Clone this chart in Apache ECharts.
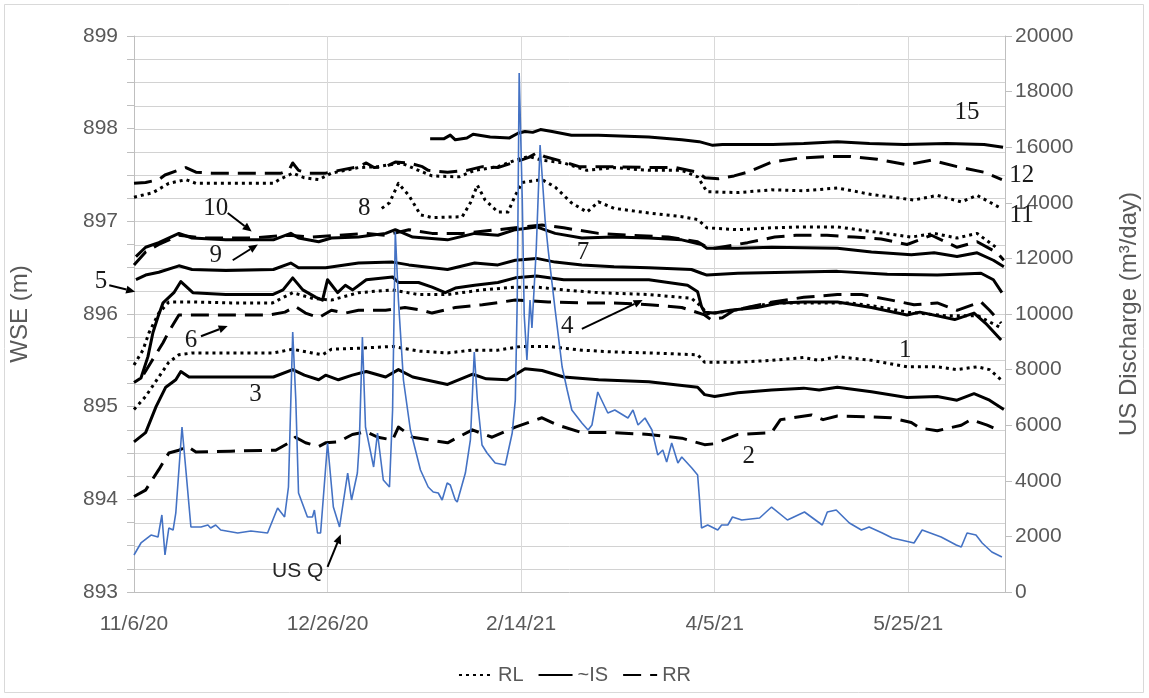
<!DOCTYPE html>
<html><head><meta charset="utf-8">
<script src="https://cdn.jsdelivr.net/npm/echarts@6/dist/echarts.min.js"></script>
<style>html,body{margin:0;padding:0;background:#fff}#c{width:1149px;height:698px}</style>
</head><body><div id="c"></div>
<script>
// x values are days since 11/6/20
const tickLabels = ['11/6/20','12/26/20','2/14/21','4/5/21','5/25/21'];
const tickDays = [0, 50, 100, 150, 200];

// ---- IS (solid) ----
const is15 = [[76.5,897.89],[80,897.89],[81.7,897.93],[83,897.88],[86,897.9],[87.6,897.94],[92,897.91],[97,897.9],[99.2,897.95],[101,897.97],[103,897.96],[105,897.99],[108,897.97],[113,897.93],[120,897.93],[133,897.91],[141.5,897.88],[146,897.86],[149.5,897.82],[152,897.83],[165,897.83],[173,897.84],[181.7,897.86],[190,897.84],[199,897.83],[210,897.84],[219.6,897.83],[224.5,897.8]];
const is9 = [[0.5,896.62],[3,896.72],[6.4,896.77],[11.6,896.87],[15,896.82],[23.7,896.8],[36,896.8],[40.5,896.87],[42.5,896.82],[47.7,896.78],[51,896.82],[58,896.83],[65,896.87],[67.5,896.91],[72,896.83],[81,896.8],[88,896.87],[94,896.85],[98.5,896.91],[104,896.94],[108.8,896.87],[115.7,896.82],[124,896.83],[133,896.82],[141.5,896.8],[146.6,896.75],[148,896.71],[156,896.71],[164.7,896.72],[181.7,896.71],[190.5,896.67],[200.8,896.64],[206.7,896.66],[212.6,896.62],[217.8,896.66],[222,896.58],[224.7,896.51]];
const is7 = [[0.5,896.37],[3,896.42],[6.4,896.45],[11.6,896.52],[15,896.48],[23.7,896.47],[36,896.48],[40.5,896.55],[42.5,896.5],[49.5,896.5],[58,896.55],[66.8,896.56],[71,896.53],[81,896.48],[88,896.55],[94,896.53],[98.5,896.58],[104,896.6],[108.8,896.56],[115.7,896.53],[124,896.51],[133,896.5],[144,896.48],[146.6,896.44],[148,896.42],[156,896.44],[168.8,896.45],[181.7,896.46],[194.6,896.43],[207.5,896.42],[218.8,896.44],[222,896.37],[224.2,896.23]];
const is5 = [[0,895.26],[1.8,895.31],[3.6,895.54],[4.9,895.8],[6.2,895.97],[7.5,896.12],[10.3,896.23],[12.1,896.35],[15.2,896.23],[23.7,896.21],[35.8,896.21],[38.5,896.26],[41,896.39],[43.6,896.26],[47,896.18],[48.7,896.15],[50,896.37],[52.6,896.23],[54.6,896.31],[56.5,896.26],[60,896.37],[66.8,896.4],[68.3,896.34],[73.5,896.34],[77,896.29],[80.4,896.23],[83,896.28],[88,896.31],[94,896.34],[98.5,896.39],[104,896.41],[111,896.37],[124,896.37],[133,896.37],[143,896.31],[145.6,896.24],[146.6,896.08],[147.4,896.02],[150,896.01],[154,896.04],[161,896.07],[167,896.12],[173,896.13],[181.7,896.13],[190.5,896.07],[199.7,895.99],[203,896.02],[212,895.94],[217,896.01],[220,895.9],[224,895.72]];
const is3 = [[0,894.62],[3,894.72],[5.7,895.0],[8.2,895.21],[10.8,895.29],[12.1,895.38],[14.2,895.32],[25,895.32],[36,895.32],[41,895.4],[44,895.34],[47.7,895.29],[49.5,895.34],[52.8,895.29],[56.4,895.34],[60,895.38],[65,895.32],[68.3,895.4],[72,895.32],[81,895.24],[87.5,895.35],[91,895.3],[96.4,895.29],[101,895.41],[105.4,895.39],[111,895.32],[120,895.29],[133,895.27],[145.6,895.21],[147.4,895.13],[150,895.11],[156,895.15],[164.7,895.18],[173,895.2],[177,895.18],[181.7,895.21],[190.5,895.16],[199.7,895.1],[207.5,895.11],[212.6,895.07],[217,895.14],[221,895.07],[224.7,894.97]];

// ---- RL (dotted) ----
const rl11 = [[0,897.26],[4.9,897.31],[9,897.41],[13.4,897.45],[16,897.41],[25,897.41],[36,897.41],[37.5,897.45],[41,897.52],[44,897.47],[47.7,897.45],[51,897.52],[58,897.58],[63,897.59],[69,897.63],[73.5,897.55],[77,897.49],[84,897.48],[88,897.55],[94,897.59],[98.5,897.66],[102,897.7],[105.4,897.66],[111,897.63],[117,897.55],[124,897.58],[133,897.55],[141.5,897.55],[145.6,897.48],[148,897.32],[156,897.31],[164.7,897.34],[173,897.33],[181.7,897.36],[190.5,897.29],[201.5,897.23],[207.5,897.28],[213.7,897.21],[217.8,897.28],[224,897.14]];
const rl8 = [[64,897.14],[66,897.2],[68.3,897.41],[71,897.28],[74,897.07],[77,897.04],[84.8,897.05],[86.9,897.2],[88.7,897.39],[90.7,897.23],[94,897.1],[96.6,897.1],[98.5,897.28],[100.3,897.42],[105.4,897.45],[108.8,897.37],[113,897.2],[117,897.1],[120,897.21],[124,897.14],[133,897.09],[141.5,897.05],[145.6,897.02],[148,896.93],[156,896.91],[164.7,896.93],[173,896.94],[181.7,896.94],[190.5,896.89],[200.8,896.83],[206.7,896.87],[212.6,896.82],[217.8,896.87],[223,896.71]];
const rl4 = [[0,895.45],[2.3,895.61],[3.9,895.8],[6.4,896.01],[9,896.13],[15,896.13],[25,896.12],[35.8,896.12],[41,896.23],[46,896.17],[51,896.15],[58,896.23],[66.8,896.26],[73.5,896.21],[81,896.21],[90,896.26],[98.5,896.29],[104,896.29],[111,896.26],[120,896.23],[133,896.21],[144,896.17],[146.6,896.08],[148,896.0],[155,896.04],[165,896.12],[175,896.12],[185,896.12],[192,896.08],[200,896.02],[210,895.98],[218,895.98],[224,895.85]];
const rl1 = [[0,894.97],[3,895.11],[6.4,895.32],[9,895.48],[11.6,895.56],[15.2,895.58],[25,895.58],[36,895.58],[41,895.62],[46,895.58],[48.7,895.56],[51,895.62],[58,895.63],[66.8,895.65],[73.5,895.6],[81,895.58],[87.4,895.61],[94,895.61],[100,895.65],[107,895.65],[115.7,895.61],[124,895.59],[133,895.58],[145.6,895.56],[147.4,895.48],[156,895.48],[164.7,895.5],[173,895.53],[177,895.5],[181.7,895.54],[190.5,895.5],[199.7,895.43],[207.5,895.43],[212.6,895.4],[217.8,895.43],[221,895.4],[224,895.29]];

// ---- RR (dashed) ----
const rr12 = [[0,897.41],[3,897.42],[6.4,897.45],[8,897.5],[13.4,897.58],[16,897.53],[20,897.52],[30,897.52],[38,897.52],[40,897.55],[41,897.63],[42.5,897.55],[45,897.52],[49.5,897.52],[53,897.55],[58,897.59],[60,897.63],[62,897.58],[65,897.59],[67.5,897.64],[71,897.63],[74.5,897.59],[76,897.55],[81,897.53],[86,897.55],[90,897.59],[94,897.58],[98.5,897.64],[102,897.69],[104,897.74],[106,897.7],[109.5,897.66],[115,897.59],[124,897.59],[133,897.58],[140,897.58],[145.6,897.53],[147.5,897.47],[151,897.46],[155,897.49],[158.5,897.53],[164.7,897.64],[171.4,897.68],[179,897.7],[185,897.7],[192,897.67],[199.7,897.61],[206,897.66],[212.6,897.59],[219.6,897.53],[224.2,897.45]];
const rr10 = [[0,896.53],[3,896.67],[6.4,896.75],[11.6,896.85],[17.5,896.82],[30,896.82],[40,896.85],[46,896.83],[53,896.85],[60,896.87],[65,896.85],[71,896.91],[77,896.87],[85,896.87],[98.5,896.93],[105.4,896.96],[111,896.93],[120,896.87],[128.6,896.85],[138,896.83],[145.6,896.78],[148,896.72],[150,896.71],[158.5,896.77],[165.5,896.83],[171,896.85],[179,896.85],[186,896.83],[193,896.81],[199.7,896.75],[206,896.85],[212.6,896.72],[217.8,896.78],[223,896.66],[224.7,896.58]];
const rr6 = [[2.5,895.35],[4.4,895.48],[7.5,895.69],[9,895.81],[11.6,895.99],[20,895.99],[35,895.99],[39,896.02],[41.7,896.08],[44.3,896.01],[47.7,895.96],[51,896.04],[54.6,896.01],[58,896.04],[65,896.04],[70,896.07],[74.5,896.04],[77,896.01],[83,896.07],[90,896.1],[98.5,896.15],[107,896.13],[115.7,896.12],[124,896.12],[133,896.1],[141.5,896.07],[147.4,895.99],[149,895.94],[152,895.96],[155,896.04],[165,896.13],[173,896.18],[181.7,896.21],[188,896.21],[195.6,896.15],[201.5,896.1],[207.5,896.12],[212.6,896.04],[218.8,896.13],[221,896.04],[224,895.9]];
const rr2 = [[0,894.03],[3,894.1],[6.4,894.32],[9,894.5],[11.6,894.53],[13.8,894.57],[16,894.51],[25,894.52],[36.6,894.53],[40,894.61],[41.7,894.67],[44.3,894.61],[47.7,894.57],[49.5,894.61],[52.8,894.62],[56.4,894.7],[60,894.73],[63,894.67],[66.8,894.64],[68.3,894.78],[72,894.67],[81,894.61],[87.4,894.75],[92.5,894.67],[98.5,894.78],[105.4,894.88],[109.5,894.8],[115.7,894.72],[124,894.72],[133,894.7],[141.5,894.66],[147.4,894.59],[150,894.6],[156,894.7],[164.7,894.72],[167,894.86],[175,894.91],[178,894.86],[181.7,894.9],[190.5,894.89],[195.6,894.88],[200.8,894.83],[203,894.77],[207.5,894.74],[213.7,894.8],[216.2,894.86],[220.4,894.8],[222,894.77]];

// ---- US discharge (m3/day) ----
const usQ = [[0,1331],[1.8,1763],[4.4,2050],[6.2,1978],[7.2,2770],[8.0,1331],[9.0,2302],[10.1,2230],[10.8,2842],[12.4,5935],[13.4,4389],[14.7,2338],[17.3,2338],[19.1,2410],[19.8,2302],[21.1,2410],[22.4,2230],[26.8,2122],[30.2,2194],[34.5,2122],[37.1,3021],[38.9,2698],[39.9,3777],[41.0,9352],[41.8,6906],[42.5,3561],[44.8,2698],[46.1,2698],[46.6,2950],[47.4,2122],[48.2,2122],[50.0,5360],[51.5,3057],[53.1,2338],[55.2,4280],[56.2,3309],[57.7,4280],[58.2,5360],[59.0,9172],[59.8,5935],[61.9,4496],[62.9,5719],[64.4,4029],[66.0,3777],[66.8,6547],[67.5,12950],[68.3,10503],[69.6,7626],[71.4,5827],[74.0,4388],[76.0,3777],[77.3,3597],[78.6,3561],[79.6,3309],[80.9,3921],[81.7,3849],[83.0,3309],[83.5,3237],[85.6,4280],[86.9,5468],[87.9,8633],[88.7,6906],[89.9,5288],[91.2,5000],[93.3,4640],[95.9,4568],[97.7,5719],[98.5,6906],[99.0,10503],[99.5,18669],[100.3,14100],[100.8,9964],[101.5,8345],[102.3,10503],[102.8,9496],[103.9,12300],[104.9,16080],[106.2,13380],[107.0,12300],[108.8,10140],[110.6,8093],[111.9,7266],[113.1,6547],[115.7,6079],[117.3,5827],[118.3,6007],[119.8,7194],[122.4,6439],[124.2,6547],[127.6,6259],[128.9,6547],[130.2,6007],[132.0,6259],[133.8,5827],[135.3,4928],[136.6,5108],[137.6,4676],[138.9,5360],[140.5,4640],[141.5,4856],[144.1,4460],[145.6,4209],[146.1,3309],[146.6,2302],[148.2,2410],[150.8,2230],[151.8,2410],[153.4,2410],[154.6,2698],[157.0,2590],[161.6,2662],[164.7,3057],[168.8,2590],[173.2,2878],[177.8,2410],[179.1,2878],[181.4,2950],[184.8,2482],[187.9,2230],[189.9,2338],[193.3,2122],[195.9,1942],[201.5,1763],[203.6,2230],[208.5,1978],[212.4,1691],[213.7,1619],[215.2,2122],[217.5,2050],[219.1,1763],[221.6,1439],[224.2,1259]];

// ---- annotations: [text, day, WSE] and arrows [fromDay, fromWSE, toDay, toWSE] ----
const labelTexts = [['15',215.2,898.18],['12',229.3,897.5],['11',229.3,897.06],['10',21.1,897.14],['8',59.5,897.14],['9',21.1,896.63],['7',116,896.66],['5',-8.5,896.35],['4',111.9,895.87],['6',14.7,895.71],['1',199.2,895.61],['3',31.4,895.13],['2',158.8,894.46]];
const labelArrows = [[24.2,897.09,30.4,896.89],[25.5,896.58,32,896.75],[17.3,895.76,24.2,895.87],[115.7,895.84,131.4,896.15],[-6.4,896.31,0.3,896.24],[50,893.27,53.4,893.62]];
const usqLabel = ['US Q',42.3,893.22];

// left-axis scale settings (gridline every 0.25 m)
const WSE_MIN = 893, WSE_MAX = 899, WSE_STEP = 0.25;
const DAY_MIN = 0, DAY_MAX = 225;

const SANS = "'Liberation Sans', Arial, sans-serif";
const GREY = '#595959';
const GRID = '#d9d9d9';
const HGRID = '#d2d2d2';
function blk(name, data, kind) {
  return {type:'line', name, data, yAxisIndex:0, symbol:'none', silent:true, animation:false, z:2,
    itemStyle:{color:'#000'},
    lineStyle:{color:'#000', width:3, join:'round',
      type: kind==='dot' ? [3,4] : kind==='dash' ? [18,9] : 'solid'}};
}
const gridVals = [];
for (let v = WSE_MIN + WSE_STEP; v <= WSE_MAX + 1e-9; v += WSE_STEP) gridVals.push(+v.toFixed(2));

const series = [
  blk('RL', rl11, 'dot'), blk('RL', rl8, 'dot'), blk('RL', rl4, 'dot'), blk('RL', rl1, 'dot'),
  blk('~IS', is15, 'solid'), blk('~IS', is9, 'solid'), blk('~IS', is7, 'solid'), blk('~IS', is5, 'solid'), blk('~IS', is3, 'solid'),
  blk('RR', rr12, 'dash'), blk('RR', rr10, 'dash'), blk('RR', rr6, 'dash'), blk('RR', rr2, 'dash'),
  {type:'line', name:'US Q', data: usQ, yAxisIndex:1, symbol:'none', silent:true, animation:false, z:3,
   itemStyle:{color:'#4472C4'}, lineStyle:{color:'#4472C4', width:1.6}}
];

const chart = echarts.init(document.getElementById('c'));
chart.setOption({
  animation:false,
  backgroundColor:'#fff',
  grid:{left:133, right:142, top:36, bottom:106},
  legend:{data:['RL','~IS','RR'], bottom:8, left:'center', itemWidth:34, itemHeight:14, itemGap:14,
    itemStyle:{color:'rgba(0,0,0,0)', borderWidth:0, opacity:0},
    textStyle:{fontSize:20, color:GREY, fontFamily:SANS}},
  xAxis:{type:'value', min:DAY_MIN, max:DAY_MAX, interval:50,
    axisLine:{show:true, lineStyle:{color:'#bfbfbf', width:1}},
    axisTick:{show:false},
    splitLine:{show:true, lineStyle:{color:GRID, width:1}},
    axisLabel:{margin:22, fontSize:21, color:GREY, fontFamily:SANS, showMaxLabel:false,
      formatter: v => { const i = tickDays.indexOf(v); return i >= 0 ? tickLabels[i] : ''; }}},
  yAxis:[
    {type:'value', min:WSE_MIN, max:WSE_MAX, interval:1, name:'WSE (m)', nameLocation:'middle', nameGap:102, nameRotate:90,
      nameTextStyle:{fontSize:24, color:GREY, fontFamily:SANS},
      axisLine:{show:true, lineStyle:{color:'#bfbfbf'}},
      axisTick:{show:true, inside:false, length:7, lineStyle:{color:'#bfbfbf', width:1}},
      minorTick:{show:true, splitNumber:4, length:7, lineStyle:{color:'#bfbfbf', width:1}},
      splitLine:{show:false},
      axisLabel:{margin:16, fontSize:21, color:GREY, fontFamily:SANS, formatter: v => String(v)}},
    {type:'value', min:0, max:20000, interval:2000, position:'right', name:'US Discharge (m³/day)',
      nameLocation:'middle', nameGap:112, nameRotate:90,
      nameTextStyle:{fontSize:24, color:GREY, fontFamily:SANS},
      axisLine:{show:true, lineStyle:{color:'#bfbfbf'}},
      axisTick:{show:true, inside:false, length:7, lineStyle:{color:'#bfbfbf', width:1}},
      splitLine:{show:false},
      axisLabel:{margin:10, fontSize:21, color:GREY, fontFamily:SANS, formatter: v => String(v)}}
  ],
  series
});

function px(d, w) { return chart.convertToPixel({xAxisIndex:0, yAxisIndex:0}, [d, w]); }
const graphics = [
  {type:'rect', shape:{x:4.5, y:4.5, width:1139, height:688}, style:{fill:'none', stroke:GRID, lineWidth:1}, z:-1, silent:true}
];
// crisp horizontal gridlines at the left axis's 0.25 m steps, positioned by the axis scale
gridVals.forEach(v => {
  const a = px(DAY_MIN, v), b = px(DAY_MAX, v);
  const y = Math.round(a[1]) + 0.5;
  graphics.push({type:'line', z:-1, silent:true, shape:{x1:a[0], y1:y, x2:b[0], y2:y}, style:{stroke:HGRID, lineWidth:1}});
});
labelTexts.forEach(([t, d, w]) => {
  const p = px(d, w);
  graphics.push({type:'text', x:p[0], y:p[1], z:10, silent:true,
    style:{text:t, fill:'#1a1a1a', font:"25px 'Liberation Serif', 'Times New Roman', serif", textAlign:'center', textVerticalAlign:'middle'}});
});
{
  const p = px(usqLabel[1], usqLabel[2]);
  graphics.push({type:'text', x:p[0], y:p[1], z:10, silent:true,
    style:{text:usqLabel[0], fill:'#262626', font:"21px 'Liberation Sans', Arial, sans-serif", textAlign:'center', textVerticalAlign:'middle'}});
}
labelArrows.forEach(([d1, w1, d2, w2]) => {
  const a = px(d1, w1), b = px(d2, w2);
  const dx = b[0]-a[0], dy = b[1]-a[1], L = Math.hypot(dx, dy), ux = dx/L, uy = dy/L, nx = -uy, ny = ux;
  const hl = 9, hw = 4;
  const bx = b[0]-ux*hl, by = b[1]-uy*hl;
  graphics.push({type:'line', z:10, silent:true, shape:{x1:a[0], y1:a[1], x2:bx, y2:by}, style:{stroke:'#000', lineWidth:2}});
  graphics.push({type:'polygon', z:10, silent:true, shape:{points:[[b[0],b[1]],[bx+nx*hw,by+ny*hw],[bx-nx*hw,by-ny*hw]]}, style:{fill:'#000'}});
});
chart.setOption({graphic: graphics});
</script></body></html>
